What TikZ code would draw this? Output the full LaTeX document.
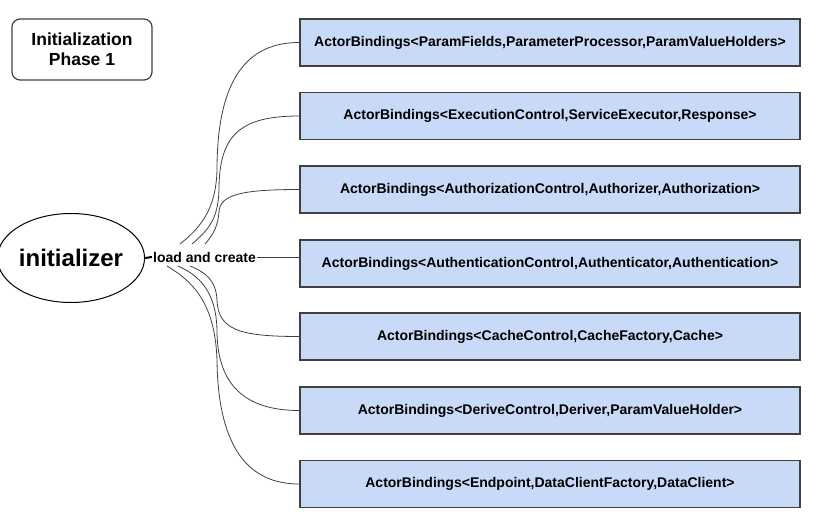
\documentclass[tikz,border=0pt]{standalone}
\usepackage{fontspec}
\setmainfont{Liberation Sans}
\usetikzlibrary{shapes.geometric}
\definecolor{B1}{RGB}{201,218,248}
\definecolor{G1}{RGB}{64,64,64}

\begin{document}
\begin{tikzpicture}[x=1pt, y=-1pt,
    bind/.style={draw=G1, line width=1.5pt, fill=B1, minimum width=500pt, minimum height=47pt,
                 inner sep=0pt, font=\fontsize{14}{16}\selectfont\bfseries},
    link/.style={draw=black!75, line width=0.8pt}]
      \useasboundingbox (0,0) rectangle (820,527);
      \node[draw=G1, line width=1.2pt, rounded corners=8pt, minimum width=140pt, minimum height=61pt,
            align=center, font=\fontsize{17.5}{20}\selectfont\bfseries] (phase) at (82,49.5) {Initialization\\Phase 1};
      \node[ellipse, draw=black, line width=1pt, minimum width=118pt, minimum height=89pt, inner sep=0pt,
            font=\fontsize{24}{26}\selectfont\bfseries] (init) at (71,258) {initializer};
      \node[inner sep=1pt, font=\fontsize{14}{16}\selectfont\bfseries] (lbl) at (204.5,257) {load and create};
      \node[bind] (b1) at (550,42.5)  {ActorBindings<ParamFields,ParameterProcessor,ParamValueHolders>};
      \node[bind] (b2) at (550,116)   {ActorBindings<ExecutionControl,ServiceExecutor,Response>};
      \node[bind] (b3) at (550,189.5) {ActorBindings<AuthorizationControl,Authorizer,Authorization>};
      \node[bind] (b4) at (550,263.5) {ActorBindings<AuthenticationControl,Authenticator,Authentication>};
      \node[bind] (b5) at (550,336.5) {ActorBindings<CacheControl,CacheFactory,Cache>};
      \node[bind] (b6) at (550,410.5) {ActorBindings<DeriveControl,Deriver,ParamValueHolder>};
      \node[bind] (b7) at (550,484)   {ActorBindings<Endpoint,DataClientFactory,DataClient>};
      % start points of the curved links
      \coordinate (u1) at (180,244);
      \coordinate (u2) at (192,244);
      \coordinate (u3) at (205,244);
      \coordinate (d5) at (190,266);
      \coordinate (d6) at (178,266);
      \coordinate (d7) at (167,266);
      \draw[line width=2pt] (init.east) -- (lbl.west);
      \draw[link] (lbl.east) -- (lbl.east -| b4.west);
      % upper links
      \draw[link] (u1) .. controls (200,228) and (216,210) .. (217,170)
                       .. controls (217,75) and (250,42.5) .. (b1.west);
      \draw[link] (u2) .. controls (208,230) and (218,220) .. (219,190)
                       .. controls (219,135) and (240,116) .. (b2.west);
      \draw[link] (u3) .. controls (214,234) and (218,225) .. (219,212)
                       .. controls (220,195) and (240,189.5) .. (b3.west);
      % lower links
      \draw[link] (d5) .. controls (205,272) and (216,280) .. (217,300)
                       .. controls (218,330) and (240,336.5) .. (b5.west);
      \draw[link] (d6) .. controls (198,275) and (216,290) .. (217,330)
                       .. controls (217,385) and (245,410.5) .. (b6.west);
      \draw[link] (d7) .. controls (190,280) and (215,300) .. (217,360)
                       .. controls (218,450) and (250,484) .. (b7.west);
    \end{tikzpicture}
\end{document}
